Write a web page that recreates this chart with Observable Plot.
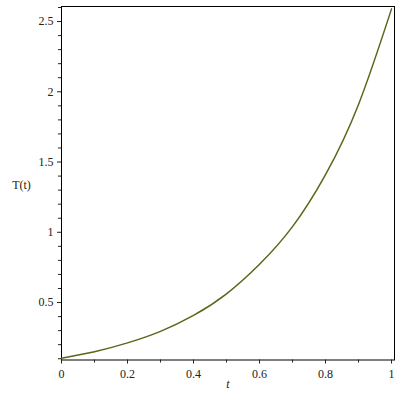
<!DOCTYPE html>
<html>
<head>
<meta charset="utf-8">
<script src="https://cdn.jsdelivr.net/npm/d3@7"></script>
<script src="https://cdn.jsdelivr.net/npm/@observablehq/plot@0.6"></script>
<style>
  html, body { margin: 0; padding: 0; background: #fff; }
  #chart svg { display: block; }
  #chart svg, #chart svg text, #chart svg g { font-family: "Liberation Serif", "DejaVu Serif", serif !important; }
</style>
</head>
<body>
<div id="chart"></div>
<script>
// Data
const tValues = [0, 0.1, 0.2, 0.3, 0.4, 0.5, 0.6, 0.7, 0.8, 0.9, 1.0];
const TValues = [0.104, 0.150, 0.213, 0.295, 0.408, 0.562, 0.772, 1.04, 1.41, 1.91, 2.59];
const xTicks = [0, 0.2, 0.4, 0.6, 0.8, 1];
const xMinorTicks = [0.1, 0.3, 0.5, 0.7, 0.9];
const yTicks = [0.5, 1, 1.5, 2, 2.5];
const yMinorTicks = [0.1, 0.2, 0.3, 0.4, 0.6, 0.7, 0.8, 0.9, 1.1, 1.2, 1.3, 1.4,
                     1.6, 1.7, 1.8, 1.9, 2.1, 2.2, 2.3, 2.4, 2.6];
const xLabel = "t";
const yLabel = "T(t)";

const data = tValues.map((t, i) => ({t, T: TValues[i]}));

const chart = Plot.plot({
  width: 400,
  height: 400,
  marginLeft: 61,
  marginRight: 6,
  marginTop: 6,
  marginBottom: 40.5,
  style: {fontSize: "12px", color: "#222", background: "#fff", fontFamily: "Liberation Serif"},
  x: {domain: [0, 1.009]},
  y: {domain: [0.091, 2.607]},
  marks: [
    Plot.frame({stroke: "#000", strokeWidth: 1}),
    Plot.axisX({ticks: xTicks, tickSize: 4, tickPadding: 5, tickFormat: d => String(d), label: null}),
    Plot.axisX({ticks: xMinorTicks, tickSize: 3, text: null, label: null}),
    Plot.axisY({ticks: yTicks, tickSize: 4, tickPadding: 4, tickFormat: d => String(d), label: null}),
    Plot.axisY({ticks: yMinorTicks.filter(v => v > 0.091), tickSize: 3, text: null, label: null}),
    Plot.line(data, {x: "t", y: "T", curve: "natural", stroke: "#56691a", strokeWidth: 1.5}),
    Plot.text([yLabel], {frameAnchor: "left", dx: -40, dy: 2, textAnchor: "middle", fontSize: 12}),
    Plot.text([xLabel], {frameAnchor: "bottom", dy: 28, fontStyle: "italic", fontSize: 12})
  ]
});
document.getElementById("chart").appendChild(chart);
</script>
</body>
</html>
